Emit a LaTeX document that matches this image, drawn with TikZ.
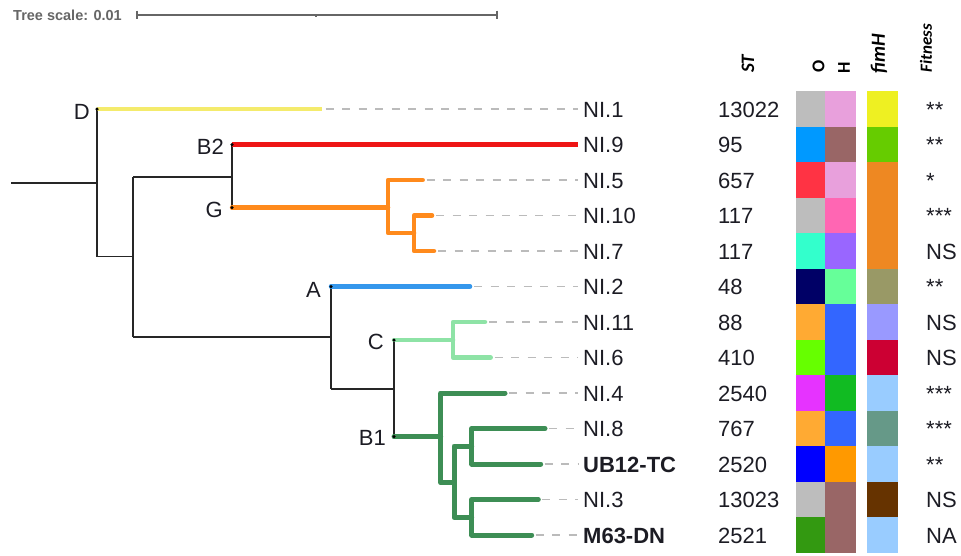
\documentclass[tikz,border=0pt]{standalone}
\usepackage{fontspec}
\usetikzlibrary{calc}
\setmainfont{Liberation Sans}
\newfontfamily\hdrfont{Carlito}

\definecolor{txt}{HTML}{1C1C24}
\definecolor{dashgray}{HTML}{BBBBBB}
\definecolor{scalegray}{HTML}{666666}
\definecolor{cladeD}{HTML}{F4EB6C}
\definecolor{cladeB2}{HTML}{EE1515}
\definecolor{cladeG}{HTML}{FF8A1C}
\definecolor{cladeA}{HTML}{3597EC}
\definecolor{cladeC}{HTML}{8EE3A6}
\definecolor{cladeB1}{HTML}{3D8E55}

\tikzset{
  stem/.style={draw=black!85, line width=1.5pt},
  clade/.style={line width=4.5pt, line cap=round},
  leafdash/.style={draw=dashgray, line width=1.5pt, dash pattern=on 8pt off 8.5pt},
  leaflab/.style={anchor=base west, inner sep=0pt, text=txt, font=\fontsize{22}{24}\selectfont},
  cladelab/.style={anchor=base east, inner sep=0pt, text=txt, font=\fontsize{22}{24}\selectfont},
  hdr/.style={rotate=90, anchor=west, inner sep=0pt, text=black, font=\hdrfont\bfseries\fontsize{17}{19}\selectfont},
  knot/.style={fill=black, circle, inner sep=0pt, minimum size=3.5pt},
}

\begin{document}
\begin{tikzpicture}[x=1pt,y=-1pt]
\useasboundingbox (0,0) rectangle (961,555);

% ---------- scale bar ----------
\node[anchor=base west, inner sep=0pt, text=scalegray, font=\bfseries\fontsize{14.5}{16}\selectfont] (scalelab) at (13,20) {Tree scale: 0.01};
\coordinate (sbL) at (137,14.7);
\coordinate (sbM) at (316,14.7);
\coordinate (sbR) at (497,14.7);
\draw[scalegray, line width=1.8pt] (sbL) -- (sbR);
\draw[scalegray, line width=1.5pt] ($(sbL)+(0,-4)$) -- ($(sbL)+(0,4)$);
\draw[scalegray, line width=1.5pt] ($(sbR)+(0,-4)$) -- ($(sbR)+(0,4)$);
\draw[scalegray, line width=1.5pt] (sbM) -- ($(sbM)+(0,2.5)$);

% ---------- row positions ----------
\foreach \i/\yy in {1/109,2/144.5,3/180,4/215.5,5/251,6/286.5,7/322,8/357.5,9/393,10/428.5,11/464,12/499.5,13/535}
  \coordinate (row\i) at (0,\yy);

% ---------- internal nodes ----------
\coordinate (root) at (11,183);
\coordinate (n0) at (97,183);
\coordinate (n1) at (133,256.7);
\coordinate (n2) at (232,177);
\coordinate (nG) at (388,207.7);
\coordinate (nG2) at (414,233);
\coordinate (n3) at (331,337);
\coordinate (n4) at (394,389);
\coordinate (nC) at (453,340);
\coordinate (nB1) at (440.7,436.7);
\coordinate (nB1b) at (454,482.7);
\coordinate (nB1c) at (471.7,446);
\coordinate (nB1d) at (471.7,517.5);

% ---------- leaf tips ----------
\coordinate (t1) at (321.7,0 |- row1);
\coordinate (t2) at (578,0 |- row2);
\coordinate (t3) at (422.7,0 |- row3);
\coordinate (t4) at (432,0 |- row4);
\coordinate (t5) at (434,0 |- row5);
\coordinate (t6) at (470,0 |- row6);
\coordinate (t7) at (485,0 |- row7);
\coordinate (t8) at (490.7,0 |- row8);
\coordinate (t9) at (505,0 |- row9);
\coordinate (t10) at (545,0 |- row10);
\coordinate (t11) at (540.7,0 |- row11);
\coordinate (t12) at (538.3,0 |- row12);
\coordinate (t13) at (531.7,0 |- row13);

% ---------- dashed leaders ----------
\foreach \i in {1,3,4,5,6,7,8,9,10,11,12,13}
  \draw[leafdash] ($(t\i)+(4,0)$) -- (578,0 |- t\i);

% ---------- black backbone ----------
\draw[stem] (root) -- (n0);
\draw[stem] (n0 |- t1) -- (n0 |- n1);
\draw[stem] (n0 |- n1) -- (n1);
\draw[stem] (n1 |- n2) -- (n1 |- n3);
\draw[stem] (n1 |- n2) -- (n2);
\draw[stem] (n1 |- n3) -- (n3);
\draw[stem] (n2 |- t2) -- (n2 |- nG);
\draw[stem] (n3 |- t6) -- (n3 |- n4);
\draw[stem] (n3 |- n4) -- (n4);
\draw[stem] (n4 |- nC) -- (n4 |- nB1);

% ---------- coloured clades ----------
% D
\draw[clade, cladeD, line cap=butt] (n0 |- t1) -- (t1);
% B2
\draw[clade, cladeB2, line cap=butt] (n2 |- t2) -- (t2);
% G
\draw[clade, cladeG, line join=round] (n2 |- nG) -- (nG);
\draw[clade, cladeG, line join=round] (t3) -- (nG |- t3) -- (nG |- nG2) -- (nG2);
\draw[clade, cladeG, line join=round] (t4) -- (nG2 |- t4) -- (nG2 |- t5) -- (t5);
% A
\draw[clade, cladeA] (n3 |- t6) -- (t6);
% C
\draw[clade, cladeC, line join=round] (n4 |- nC) -- (nC);
\draw[clade, cladeC, line join=round] (t7) -- (nC |- t7) -- (nC |- t8) -- (t8);
% B1
\draw[clade, cladeB1, line width=5pt, line join=round] (n4 |- nB1) -- (nB1);
\draw[clade, cladeB1, line width=5pt, line join=round] (t9) -- (nB1 |- t9) -- (nB1 |- nB1b) -- (nB1b);
\draw[clade, cladeB1, line width=5pt, line join=round] (nB1c) -- (nB1b |- nB1c) -- (nB1b |- nB1d) -- (nB1d);
\draw[clade, cladeB1, line width=5pt, line join=round] (t10) -- (nB1c |- t10) -- (nB1c |- t11) -- (t11);
\draw[clade, cladeB1, line width=5pt, line join=round] (t12) -- (nB1d |- t12) -- (nB1d |- t13) -- (t13);

% ---------- clade dots and labels ----------
\node[knot] (kD) at (n0 |- t1) {};
\node[knot] (kB2) at (n2 |- t2) {};
\node[knot] (kG) at (n2 |- nG) {};
\node[knot] (kA) at (n3 |- t6) {};
\node[knot] (kC) at (n4 |- nC) {};
\node[knot] (kB1) at (n4 |- nB1) {};
\node[cladelab] (labD) at ($(kD)+(-7,10)$) {D};
\node[cladelab] (labB2) at ($(kB2)+(-8,9.5)$) {B2};
\node[cladelab] (labG) at ($(kG)+(-9,9.5)$) {G};
\node[cladelab] (labA) at ($(kA)+(-10,11)$) {A};
\node[cladelab] (labC) at ($(kC)+(-10,9.5)$) {C};
\node[cladelab] (labB1) at ($(kB1)+(-8,8.5)$) {B1};

% ---------- leaf labels ----------
\foreach \i/\lab in {1/NI.1,2/NI.9,3/NI.5,4/NI.10,5/NI.7,6/NI.2,7/NI.11,8/NI.6,9/NI.4,10/NI.8,11/\textbf{UB12-TC},12/NI.3,13/\textbf{M63-DN}}
  \node[leaflab] (leaf\i) at ($(583,0 |- row\i)+(0,8)$) {\lab};

% ---------- ST column ----------
\foreach \i/\st in {1/13022,2/95,3/657,4/117,5/117,6/48,7/88,8/410,9/2540,10/767,11/2520,12/13023,13/2521}
  \node[leaflab] (st\i) at ($(718,0 |- row\i)+(0,8)$) {\st};

% ---------- colour strips ----------
\foreach \i/\oc/\hc/\fc in {
  1/BDBDBD/E8A0DC/EEF022,
  2/0099FF/996666/66CC00,
  3/FF3344/E8A0DC/EE8822,
  4/BDBDBD/FF66B3/EE8822,
  5/33FFCC/9966FF/EE8822,
  6/000066/66FF99/999966,
  7/FFAA33/3366FF/9999FF,
  8/66FF00/3366FF/CC0033,
  9/E633FF/11BB22/99CCFF,
  10/FFAA33/3366FF/669988,
  11/0000FF/FF9900/99CCFF,
  12/BDBDBD/996666/663300,
  13/339911/996666/99CCFF}
{
  \definecolor{cO}{HTML}{\oc}
  \definecolor{cH}{HTML}{\hc}
  \definecolor{cF}{HTML}{\fc}
  \fill[cO] (796,{91.3+35.5*(\i-1)}) rectangle (825.5,{91.3+35.5*\i+0.3});
  \fill[cH] (825,{91.3+35.5*(\i-1)}) rectangle (856,{91.3+35.5*\i+0.3});
  \fill[cF] (866.5,{91.3+35.5*(\i-1)}) rectangle (898,{91.3+35.5*\i+0.3});
}

% ---------- fitness ----------
\foreach \i/\fit in {1/**,2/**,3/*,4/***,5/NS,6/**,7/NS,8/NS,9/***,10/***,11/**,12/NS,13/NA}
  \node[leaflab] (fit\i) at ($(926,0 |- row\i)+(0,8)$) {\fit};

% ---------- column headers ----------
\node[hdr, font=\hdrfont\bfseries\fontsize{19}{21}\selectfont] (hST) at (748,73) {\itshape ST};
\node[hdr, font=\hdrfont\bfseries\fontsize{18}{20}\selectfont] (hO) at (818.5,73) {O};
\node[hdr, font=\hdrfont\bfseries\fontsize{18}{20}\selectfont] (hH) at (844,74) {H};
\node[hdr, font=\hdrfont\bfseries\fontsize{20}{22}\selectfont] (hF) at (879,74) {\itshape fimH};
\node[hdr] (hFit) at (926,72.5) {\itshape Fitness};
\end{tikzpicture}
\end{document}
